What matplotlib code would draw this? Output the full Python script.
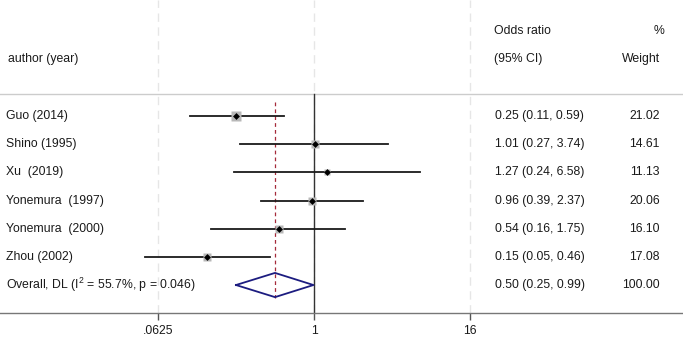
import matplotlib
matplotlib.use("Agg")
import matplotlib.pyplot as plt
import numpy as np

authors = ["Guo (2014)", "Shino (1995)", "Xu  (2019)", "Yonemura  (1997)",
           "Yonemura  (2000)", "Zhou (2002)"]
odds = [0.25, 1.01, 1.27, 0.96, 0.54, 0.15]
lower = [0.11, 0.27, 0.24, 0.39, 0.16, 0.05]
upper = [0.59, 3.74, 6.58, 2.37, 1.75, 0.46]
weights = [21.02, 14.61, 11.13, 20.06, 16.10, 17.08]
ci_text = ["0.25 (0.11, 0.59)", "1.01 (0.27, 3.74)", "1.27 (0.24, 6.58)",
           "0.96 (0.39, 2.37)", "0.54 (0.16, 1.75)", "0.15 (0.05, 0.46)"]
weight_text = ["21.02", "14.61", "11.13", "20.06", "16.10", "17.08"]
overall_label = r"Overall, DL (I$^{2}$ = 55.7%, p = 0.046)"
overall_or, overall_lo, overall_hi = 0.50, 0.25, 0.99
overall_ci_text = "0.50 (0.25, 0.99)"
overall_weight_text = "100.00"
xticks = [0.0625, 1, 16]
xtick_labels = [".0625", "1", "16"]

plt.rcParams['font.family'] = ['Liberation Sans', 'DejaVu Sans']
plt.rcParams['mathtext.default'] = 'regular'
fs = 8.8
tc = '#1a1a1a'

W, H = 683, 340
fig = plt.figure(figsize=(W/100, H/100), dpi=100)
axis_y = 313
ax = fig.add_axes([0, (H - axis_y)/H, 1, axis_y/H])

row0, dy = 116, 28.17
def row(px):
    return (px - row0)/dy

ax.set_xscale('log', base=2)
ax.set_xlim(2**(-314/39), 2**((683-314)/39))
ax.set_ylim(row(axis_y), row(0))

for s in ['top', 'right', 'left']:
    ax.spines[s].set_visible(False)
ax.spines['bottom'].set_color('#777777')
ax.spines['bottom'].set_linewidth(1.0)
ax.set_yticks([])
ax.set_xticks(xticks)
ax.set_xticklabels(xtick_labels, fontsize=fs, color=tc)
ax.minorticks_off()
ax.tick_params(axis='x', length=5, width=1, color='#555555', pad=4)

# grid lines
for xt in xticks:
    ax.axvline(xt, color='#e6e6e6', lw=1, ls=(0, (6, 4)), zorder=0)

# header separator
ax.axhline(row(94), color='#cccccc', lw=1, zorder=1)

# null line
ax.plot([1, 1], [row(94), row(axis_y)], color='#333333', lw=1, zorder=2)

# overall estimate line
ax.plot([overall_or, overall_or], [row(102), row(298)], color='#a52a3a', lw=0.9,
        ls=(0, (3, 2.5)), zorder=2)

n = len(authors)
ys = np.arange(n)
for i in range(n):
    ax.plot([lower[i], upper[i]], [ys[i], ys[i]], color='#1a1a1a', lw=1.3, zorder=3)
    ax.plot(odds[i], ys[i], marker='s', ms=6.5*np.sqrt(weights[i]/21.0),
            color='#b8b8b8', mec='none', zorder=3.5)
    ax.plot(odds[i], ys[i], marker='D', ms=3.5, color='black', mec='none', zorder=4)

# overall diamond
yo = n
h = 0.43
dx = [overall_lo, overall_or, overall_hi, overall_or, overall_lo]
dyv = [yo, yo - h, yo, yo + h, yo]
ax.plot(dx, dyv, color='#1c1c80', lw=1.3, zorder=4)

# texts
tr = ax.get_yaxis_transform()  # x axes fraction, y data
def xf(px):
    return px / W

ax.text(xf(8), row(59), "author (year)", fontsize=fs, color=tc, va='center', ha='left', transform=tr)
ax.text(xf(494), row(31), "Odds ratio", fontsize=fs, color=tc, va='center', ha='left', transform=tr)
ax.text(xf(494), row(59), "(95% CI)", fontsize=fs, color=tc, va='center', ha='left', transform=tr)
ax.text(xf(665), row(31), "%", fontsize=fs, color=tc, va='center', ha='right', transform=tr)
ax.text(xf(660), row(59), "Weight", fontsize=fs, color=tc, va='center', ha='right', transform=tr)

for i in range(n):
    ax.text(xf(6), ys[i], authors[i], fontsize=fs, color=tc, va='center', ha='left', transform=tr)
    ax.text(xf(495), ys[i], ci_text[i], fontsize=fs, color=tc, va='center', ha='left', transform=tr)
    ax.text(xf(660), ys[i], weight_text[i], fontsize=fs, color=tc, va='center', ha='right', transform=tr)

ax.text(xf(6), yo, overall_label, fontsize=fs, color=tc, va='center', ha='left', transform=tr)
ax.text(xf(495), yo, overall_ci_text, fontsize=fs, color=tc, va='center', ha='left', transform=tr)
ax.text(xf(660), yo, overall_weight_text, fontsize=fs, color=tc, va='center', ha='right', transform=tr)

fig.savefig("out.png", dpi=100, facecolor='white')
